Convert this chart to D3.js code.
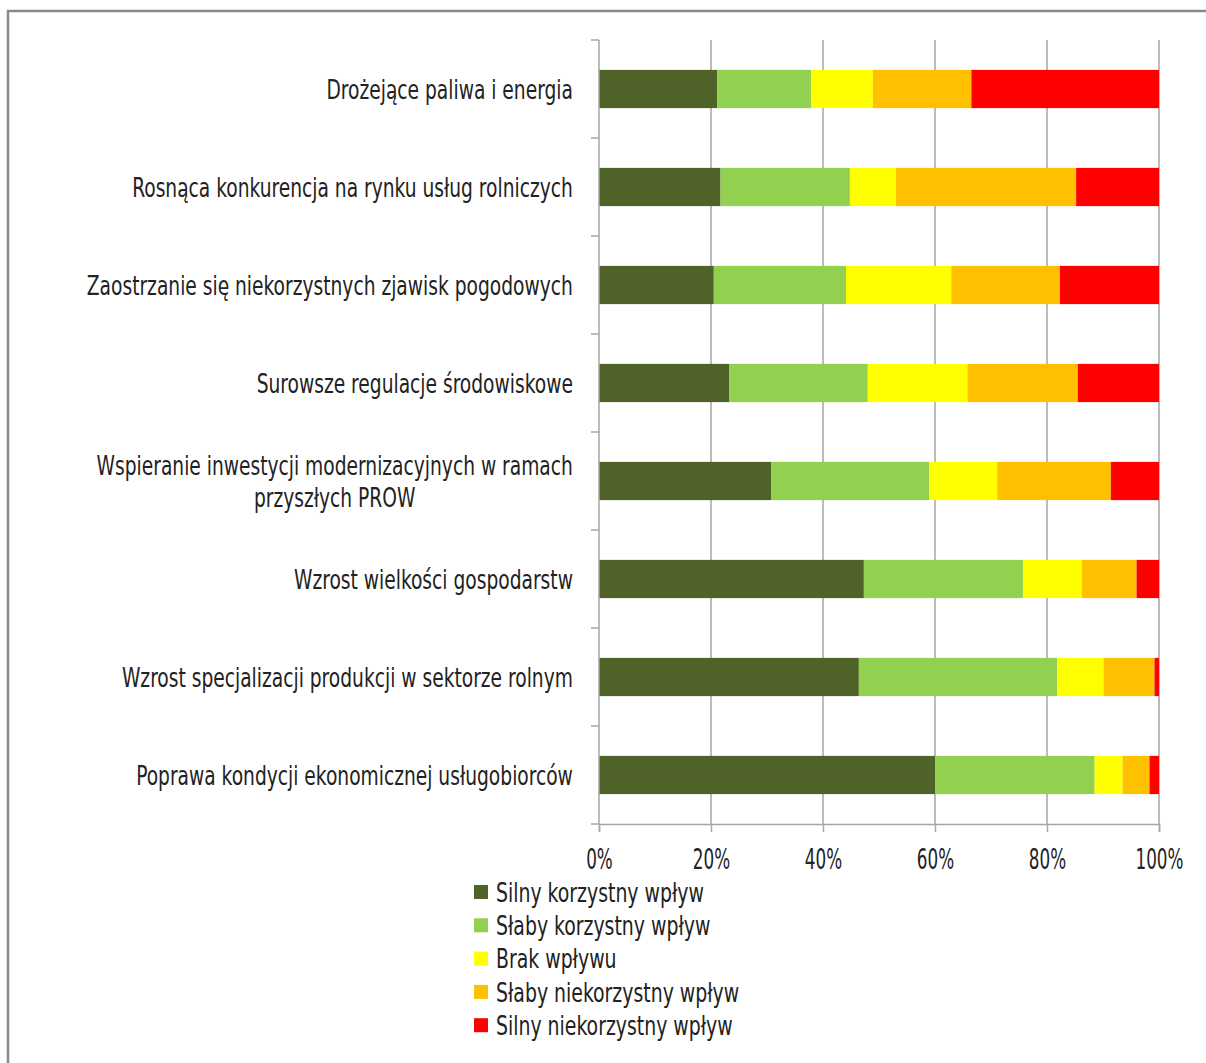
<!DOCTYPE html>
<html><head><meta charset="utf-8">
<script src="https://cdn.jsdelivr.net/npm/d3@7"></script>
<style>
body{margin:0;background:#fff}
text{font-family:"Liberation Sans Narrow","DejaVu Sans Condensed","Open Sans",sans-serif;fill:#222}
</style>
</head><body><svg id="c" width="1206" height="1063"></svg>
<script>
const categories = [
  "Drożejące paliwa i energia",
  "Rosnąca konkurencja na rynku usług rolniczych",
  "Zaostrzanie się niekorzystnych zjawisk pogodowych",
  "Surowsze regulacje środowiskowe",
  "Wspieranie inwestycji modernizacyjnych w ramach przyszłych PROW",
  "Wzrost wielkości gospodarstw",
  "Wzrost specjalizacji produkcji w sektorze rolnym",
  "Poprawa kondycji ekonomicznej usługobiorców"
];
const seriesNames = ["Silny korzystny wpływ","Słaby korzystny wpływ","Brak wpływu","Słaby niekorzystny wpływ","Silny niekorzystny wpływ"];
const seriesColors = ["#4f6228","#92d050","#ffff00","#ffc000","#ff0000"];
const silnyKorzystny    = [21.1, 21.7, 20.5, 23.3, 30.8, 47.3, 46.4, 60.0];
const slabyKorzystny    = [16.8, 23.1, 23.6, 24.7, 28.2, 28.4, 35.4, 28.5];
const brakWplywu        = [11.0,  8.2, 18.8, 17.8, 12.1, 10.5,  8.3,  5.0];
const slabyNiekorzystny = [17.6, 32.2, 19.4, 19.7, 20.3,  9.8,  9.1,  4.8];
const silnyNiekorzystny = [33.5, 14.8, 17.7, 14.5,  8.6,  4.0,  0.8,  1.7];
const tickValues = [0, 0.2, 0.4, 0.6, 0.8, 1.0];

(function () {
const seriesValues = [silnyKorzystny, slabyKorzystny, brakWplywu, slabyNiekorzystny, silnyNiekorzystny];
const rows = categories.map((c, i) => {
  const o = {cat: c};
  seriesNames.forEach((s, j) => o[s] = seriesValues[j][i]);
  return o;
});

const svg = d3.select("#c");
const pL = 599, pR = 1159, pT = 40, pB = 824;
const grid = "#a6a6a6";

// outer border
svg.append("rect").attr("x", 8).attr("y", 11).attr("width", 1250).attr("height", 1100)
  .attr("fill", "none").attr("stroke", "#8a8a8a").attr("stroke-width", 2.5);

const x = d3.scaleLinear().domain([0, 1]).range([pL, pR]);
const y = d3.scaleBand().domain(categories).range([pT, pB]).paddingInner(0.61).paddingOuter(0.305);

function measure(str, size) {
  const t = svg.append("text").style("font-size", size + "px").text(str);
  const w = t.node().getComputedTextLength();
  t.remove();
  return w;
}
// condensed look: tall glyphs, horizontally squeezed to the reference widths
const catSize = 27, tickSize = 29, legSize = 27;
const catSx = 437 / measure("Poprawa kondycji ekonomicznej usługobiorców", catSize);
const tickSx = 48 / measure("100%", tickSize);
const legSx = 208 / measure("Silny korzystny wpływ", legSize);

// gridlines
svg.append("g").selectAll("line").data(tickValues.slice(1)).join("line")
  .attr("x1", d => x(d)).attr("x2", d => x(d)).attr("y1", pT).attr("y2", pB)
  .attr("stroke", grid).attr("stroke-width", 1.5);

// bars
const stack = d3.stack().keys(seriesNames).offset(d3.stackOffsetExpand);
const series = stack(rows);
svg.append("g").selectAll("g").data(series).join("g")
  .attr("fill", (d, i) => seriesColors[i])
  .selectAll("rect").data(d => d).join("rect")
  .attr("x", d => x(d[0])).attr("width", d => x(d[1]) - x(d[0]))
  .attr("y", d => y(d.data.cat)).attr("height", y.bandwidth());

// left axis line + ticks at band boundaries
const bounds = d3.range(categories.length + 1).map(i => pT + i * y.step());
svg.append("line").attr("x1", pL).attr("x2", pL).attr("y1", pT).attr("y2", pB)
  .attr("stroke", grid).attr("stroke-width", 1.5);
svg.append("g").selectAll("line").data(bounds).join("line")
  .attr("x1", pL - 8).attr("x2", pL).attr("y1", d => d).attr("y2", d => d)
  .attr("stroke", grid).attr("stroke-width", 1.5);

// bottom axis
const xAxis = d3.axisBottom(x).tickValues(tickValues).tickFormat(d3.format(".0%")).tickSize(8).tickPadding(16);
const gx = svg.append("g").attr("transform", `translate(0,${pB})`).call(xAxis);
gx.select(".domain").attr("stroke", grid).attr("stroke-width", 1.5);
gx.selectAll(".tick line").attr("stroke", grid).attr("stroke-width", 1.5);
gx.selectAll(".tick text").style("font-size", tickSize + "px").attr("fill", "#222")
  .attr("transform", `scale(${tickSx},1)`)
  .style("font-family", '"Liberation Sans Narrow","DejaVu Sans Condensed",sans-serif');

// category labels
const labelRight = 573, maxW = 500, lineH = 32;
const gl = svg.append("g").style("font-size", catSize + "px");
categories.forEach(cat => {
  const words = cat.split(" ");
  const lines = [];
  let cur = [];
  words.forEach(w => {
    const wd = measure(cur.concat(w).join(" "), catSize) * catSx;
    if (wd > maxW && cur.length) { lines.push(cur.join(" ")); cur = [w]; }
    else cur.push(w);
  });
  lines.push(cur.join(" "));
  const bw = d3.max(lines, l => measure(l, catSize) * catSx);
  const cx = labelRight - bw / 2;
  const cy = y(cat) + y.bandwidth() / 2;
  const t = gl.append("g").attr("transform", `translate(${cx},${cy}) scale(${catSx},1)`)
    .append("text").attr("text-anchor", "middle");
  lines.forEach((l, i) => {
    t.append("tspan").attr("x", 0)
      .attr("y", (i - (lines.length - 1) / 2) * lineH)
      .attr("dy", "0.36em").text(l);
  });
});

// legend
const leg = svg.append("g").selectAll("g").data(seriesNames).join("g")
  .attr("transform", (d, i) => `translate(474,${892 + i * 33.3})`);
leg.append("rect").attr("x", 0).attr("y", -7).attr("width", 14).attr("height", 14)
  .attr("fill", (d, i) => seriesColors[i]);
leg.append("g").attr("transform", `translate(22,0) scale(${legSx},1)`)
  .append("text").attr("dy", "0.36em").style("font-size", legSize + "px").text(d => d);
})();
</script>
</body></html>
